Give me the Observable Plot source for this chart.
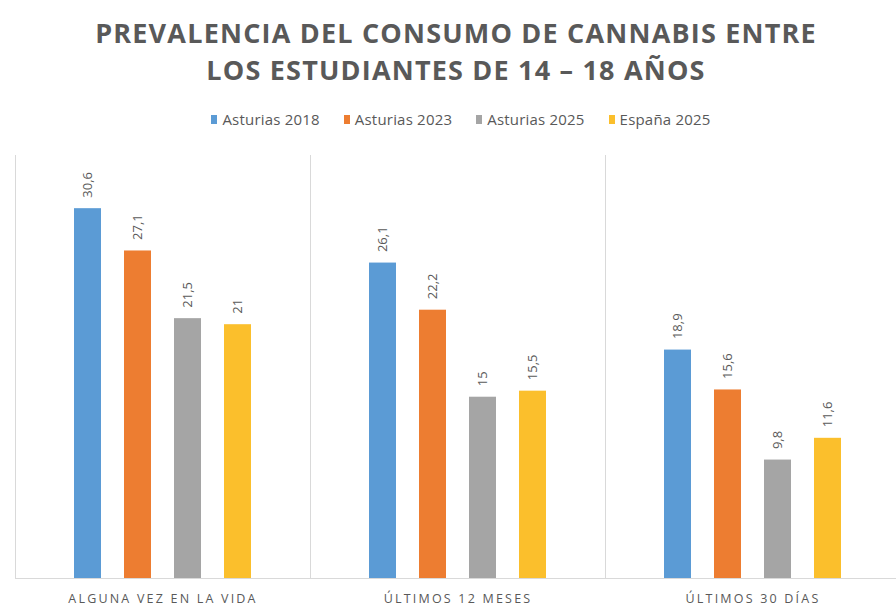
<!DOCTYPE html>
<html>
<head>
<meta charset="utf-8">
<script src="https://cdn.jsdelivr.net/npm/d3@7"></script>
<script src="https://cdn.jsdelivr.net/npm/@observablehq/plot@0.6"></script>
<style>
  html, body { margin: 0; padding: 0; background: #fff; overflow: hidden; width: 896px; height: 608px; }
  #title { height: 100px; display: flex; flex-direction: column; align-items: center; justify-content: flex-start; padding-top: 14px; padding-left: 16px; box-sizing: border-box; }
  #title div { font-family: "Open Sans", sans-serif; font-weight: 700; font-size: 27px; color: #595959; line-height: 37px; white-space: nowrap; letter-spacing: 1.2px; }
  #legend { height: 38px; display: flex; justify-content: center; align-items: center; box-sizing: border-box; padding-left: 26px; font-family: "Open Sans", sans-serif; font-size: 15px; color: #595959; letter-spacing: 0.2px; }
  #legend span.item { display: inline-flex; align-items: center; margin: 0 12px; }
  #legend span.sw { display: inline-block; width: 6px; height: 9px; margin-right: 5px; }
  #spacer { height: 2px; }
  #chart svg { display: block; overflow: visible; max-width: none !important; }
</style>
</head>
<body>
<div id="title"><div>PREVALENCIA DEL CONSUMO DE CANNABIS ENTRE</div><div>LOS ESTUDIANTES DE 14 – 18 AÑOS</div></div>
<div id="legend"></div>
<div id="spacer"></div>
<div id="chart"></div>
<script>
const categories = ["ALGUNA VEZ EN LA VIDA", "ÚLTIMOS 12 MESES", "ÚLTIMOS 30 DÍAS"];
const series = ["Asturias 2018", "Asturias 2023", "Asturias 2025", "España 2025"];
const colors = ["#5b9bd5", "#ed7d31", "#a5a5a5", "#fbbf2c"];
const asturias2018 = [30.6, 26.1, 18.9];
const asturias2023 = [27.1, 22.2, 15.6];
const asturias2025 = [21.5, 15, 9.8];
const espana2025 = [21, 15.5, 11.6];

const valuesBySeries = [asturias2018, asturias2023, asturias2025, espana2025];
const data = [];
categories.forEach((c, i) => {
  series.forEach((s, j) => data.push({category: c, series: s, value: valuesBySeries[j][i]}));
});

const legend = document.getElementById("legend");
series.forEach((s, j) => {
  const item = document.createElement("span");
  item.className = "item";
  item.innerHTML = `<span class="sw" style="background:${colors[j]}"></span>${s}`;
  legend.appendChild(item);
});

const fmt = v => String(v).replace(".", ",");

const chart = Plot.plot({
  width: 900,
  height: 468,
  marginLeft: 15,
  marginRight: 0,
  marginTop: 15,
  marginBottom: 30,
  style: {fontFamily: "Open Sans, sans-serif", color: "#595959", background: "transparent", maxWidth: "none"},
  fx: {domain: categories, padding: 0, label: null, axis: "bottom", tickSize: 0, tickPadding: 16},
  x: {domain: series, paddingInner: 0.465, paddingOuter: 1.15, axis: null},
  y: {domain: [0, 35], axis: null},
  color: {domain: series, range: colors},
  marks: [
    Plot.frame({anchor: "left", stroke: "#d9d9d9"}),
    Plot.barY(data, {fx: "category", x: "series", y: "value", fill: "series"}),
    Plot.ruleY([0], {stroke: "#d9d9d9"}),
    Plot.text(data, {fx: "category", x: "series", y: "value", text: d => fmt(d.value), rotate: -90, textAnchor: "start", dy: -11, fontSize: 13, fill: "#595959"})
  ]
});
chart.querySelectorAll("g[aria-label='fx-axis tick label']").forEach(el => {
  el.setAttribute("font-size", "12.5");
  el.style.letterSpacing = "2.2px";
});
document.getElementById("chart").appendChild(chart);
</script>
</body>
</html>
